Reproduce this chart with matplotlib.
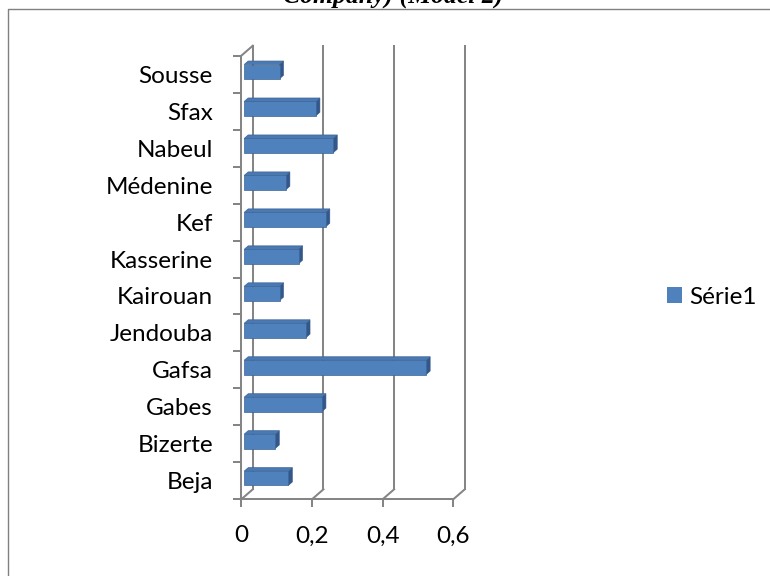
import matplotlib
matplotlib.use('Agg')
import matplotlib.pyplot as plt
from matplotlib.patches import Polygon, Rectangle, Patch
from matplotlib.lines import Line2D

# Data (bottom to top)
regions = ['Beja', 'Bizerte', 'Gabes', 'Gafsa', 'Jendouba', 'Kairouan',
           'Kasserine', 'Kef', 'Médenine', 'Nabeul', 'Sfax', 'Sousse']
values = [0.125, 0.088, 0.22, 0.515, 0.175, 0.10,
          0.154, 0.231, 0.118, 0.252, 0.203, 0.10]
x_ticks = [0, 0.2, 0.4, 0.6]
x_tick_labels = ['0', '0,2', '0,4', '0,6']
series_name = 'Série1'
title_text = 'Company) (Model 2)'

plt.rcParams['font.family'] = ['Lato', 'DejaVu Sans']

W, H = 770, 576
fig = plt.figure(figsize=(W / 100, H / 100), dpi=100)

FRONT = '#4F81BD'
TOP = '#4A79B3'
SIDE = '#33578A'
EDGE = '#3C6496'
GRID = '#858585'
LW = 1.45
FS = 17.5

ax = fig.add_axes([241.3 / W, 1 - 499.3 / H, 212 / W, 443.6 / H])
n = len(regions)
ax.set_xlim(0, 0.6)
ax.set_ylim(-0.5, n - 0.5)
ax.patch.set_visible(False)

# pixel -> data conversion for the oblique depth of the 3-D box
ppx = ax.bbox.width / 0.6
ppy = ax.bbox.height / n
depth_x = 11.5 / ppx
depth_y = 10.0 / ppy
y0, y1 = -0.5, n - 0.5

# back wall gridlines and floor diagonals
for t in x_ticks:
    ax.plot([t + depth_x, t + depth_x], [y0 + depth_y, y1 + depth_y],
            color=GRID, lw=LW, clip_on=False, zorder=1)
    ax.plot([t, t + depth_x], [y0, y0 + depth_y],
            color=GRID, lw=LW, clip_on=False, zorder=1)
ax.plot([0, depth_x], [y1, y1 + depth_y], color=GRID, lw=LW,
        clip_on=False, zorder=1)

# 3-D bars
d1, d2 = 0.25, 0.60
h = 0.387
fx0, fy0 = d1 * depth_x, d1 * depth_y
bx0, by0 = d2 * depth_x, d2 * depth_y
for i, v in enumerate(values):
    lo, hi = i - h / 2, i + h / 2
    side = Polygon([(fx0 + v, lo + fy0), (bx0 + v, lo + by0),
                    (bx0 + v, hi + by0), (fx0 + v, hi + fy0)],
                   closed=True, facecolor=SIDE, edgecolor=SIDE, lw=0.4,
                   zorder=3, clip_on=False)
    top = Polygon([(fx0, hi + fy0), (fx0 + v, hi + fy0),
                   (bx0 + v, hi + by0), (bx0, hi + by0)],
                  closed=True, facecolor=TOP, edgecolor=EDGE, lw=0.5,
                  zorder=3, clip_on=False)
    front = Rectangle((fx0, lo + fy0), v, h, facecolor=FRONT,
                      edgecolor=EDGE, lw=0.5, zorder=4, clip_on=False)
    ax.add_patch(side)
    ax.add_patch(top)
    ax.add_patch(front)

# axes, ticks and labels
for s in ['top', 'right']:
    ax.spines[s].set_visible(False)
for s in ['left', 'bottom']:
    ax.spines[s].set_color(GRID)
    ax.spines[s].set_linewidth(LW)

ax.set_yticks(range(n))
ax.set_yticklabels(regions)
ax.set_yticks([k - 0.5 for k in range(n + 1)], minor=True)
ax.tick_params(axis='y', which='major', length=0, pad=20.4, labelsize=FS)
ax.tick_params(axis='y', which='minor', length=5.5, width=LW,
               color=GRID, direction='out')
ax.set_xticks(x_ticks)
ax.set_xticklabels(x_tick_labels)
ax.tick_params(axis='x', length=5.8, width=LW, color=GRID,
               direction='out', pad=13.0, labelsize=FS)

# legend
fig.legend(handles=[Patch(facecolor=FRONT, edgecolor='none', label=series_name)],
           loc='center left', bbox_to_anchor=(667 / W, 1 - 297 / H),
           frameon=False, fontsize=FS, handlelength=0.62, handleheight=0.62,
           handletextpad=0.28, borderpad=0, borderaxespad=0)

# chart frame (left and top edges)
fig.add_artist(Line2D([8 / W, 8 / W, 1.01], [-0.01, 1 - 8.5 / H, 1 - 8.5 / H],
                      transform=fig.transFigure, color='#808080', lw=1.0))

# caption, clipped by the upper edge
fig.text(393 / W, 1 - 3.0 / H, title_text, ha='center', va='baseline',
         family='Liberation Serif', weight='bold', style='italic', fontsize=18.5)

fig.savefig('out.png', dpi=100)
